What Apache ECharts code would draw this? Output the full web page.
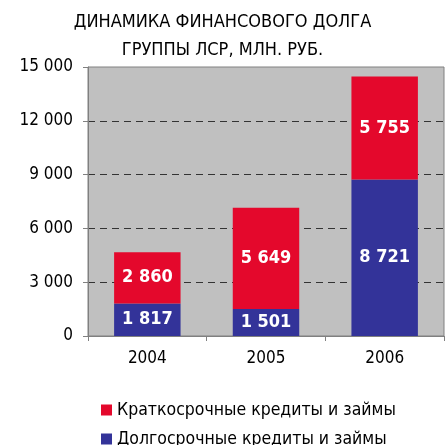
<!DOCTYPE html>
<html>
<head>
<meta charset="utf-8">
<script src="https://cdn.jsdelivr.net/npm/echarts@6/dist/echarts.min.js"></script>
<style>
  html, body { margin: 0; padding: 0; background: #fff; }
  #chart { width: 445px; height: 445px; }
</style>
</head>
<body>
<div id="chart"></div>
<script>
const years = ['2004', '2005', '2006']
const shortTerm = [2860, 5649, 5755]
const longTerm = [1817, 1501, 8721]
const seriesNames = ['Краткосрочные кредиты и займы', 'Долгосрочные кредиты и займы']
const titleText = 'ДИНАМИКА ФИНАНСОВОГО ДОЛГА\nГРУППЫ ЛСР, МЛН. РУБ.'

const font = '"DejaVu Sans Condensed", "DejaVu Sans", sans-serif'

// 15000 -> "15 000"
const fmt = v => String(v).replace(/\B(?=(\d{3})+(?!\d))/g, ' ')

const myChart = echarts.init(document.getElementById('chart'))

const legendText = { fontFamily: font, fontSize: 17.5, color: '#000', lineHeight: 20 }

const option = {
  animation: false,
  textStyle: { fontFamily: font },
  title: {
    text: titleText,
    left: 'center',
    top: 3,
    textStyle: {
      fontFamily: font,
      fontWeight: 'normal',
      fontSize: 18,
      color: '#000',
      lineHeight: 28
    }
  },
  // две легенды, чтобы пункты шли столбиком
  legend: [
    {
      left: 96,
      top: 395,
      itemWidth: 11,
      itemHeight: 11,
      icon: 'rect',
      data: [seriesNames[0]],
      textStyle: legendText
    },
    {
      left: 96,
      top: 424,
      itemWidth: 11,
      itemHeight: 11,
      icon: 'rect',
      data: [seriesNames[1]],
      textStyle: legendText
    }
  ],
  grid: {
    left: 88,
    right: 1,
    top: 67,
    bottom: 109,
    show: true,
    backgroundColor: '#C0C0C0',
    borderColor: '#808080',
    borderWidth: 1
  },
  xAxis: {
    type: 'category',
    data: years,
    axisLine: { lineStyle: { color: '#808080', width: 1 } },
    axisTick: { show: true, length: 5, lineStyle: { color: '#808080' } },
    axisLabel: { color: '#000', fontSize: 17, margin: 14 }
  },
  yAxis: {
    type: 'value',
    min: 0,
    max: 15000,
    interval: 3000,
    axisLine: { show: true, lineStyle: { color: '#808080', width: 1 } },
    axisTick: { show: true, length: 5, lineStyle: { color: '#808080' } },
    axisLabel: { color: '#000', fontSize: 17, margin: 15, formatter: fmt },
    splitLine: {
      showMinLine: false,
      showMaxLine: false,
      lineStyle: { color: '#333', type: [7, 5], width: 1 }
    }
  },
  series: [
    {
      name: seriesNames[1],
      type: 'bar',
      stack: 'debt',
      data: longTerm,
      barWidth: '56%',
      itemStyle: { color: '#333399' },
      label: {
        show: true,
        position: 'inside',
        color: '#fff',
        fontWeight: 'bold',
        fontSize: 18,
        formatter: p => fmt(p.value)
      }
    },
    {
      name: seriesNames[0],
      type: 'bar',
      stack: 'debt',
      data: shortTerm,
      barWidth: '56%',
      itemStyle: { color: '#E4082C' },
      label: {
        show: true,
        position: 'inside',
        color: '#fff',
        fontWeight: 'bold',
        fontSize: 18,
        formatter: p => fmt(p.value)
      }
    }
  ]
}

myChart.setOption(option)
</script>
</body>
</html>
